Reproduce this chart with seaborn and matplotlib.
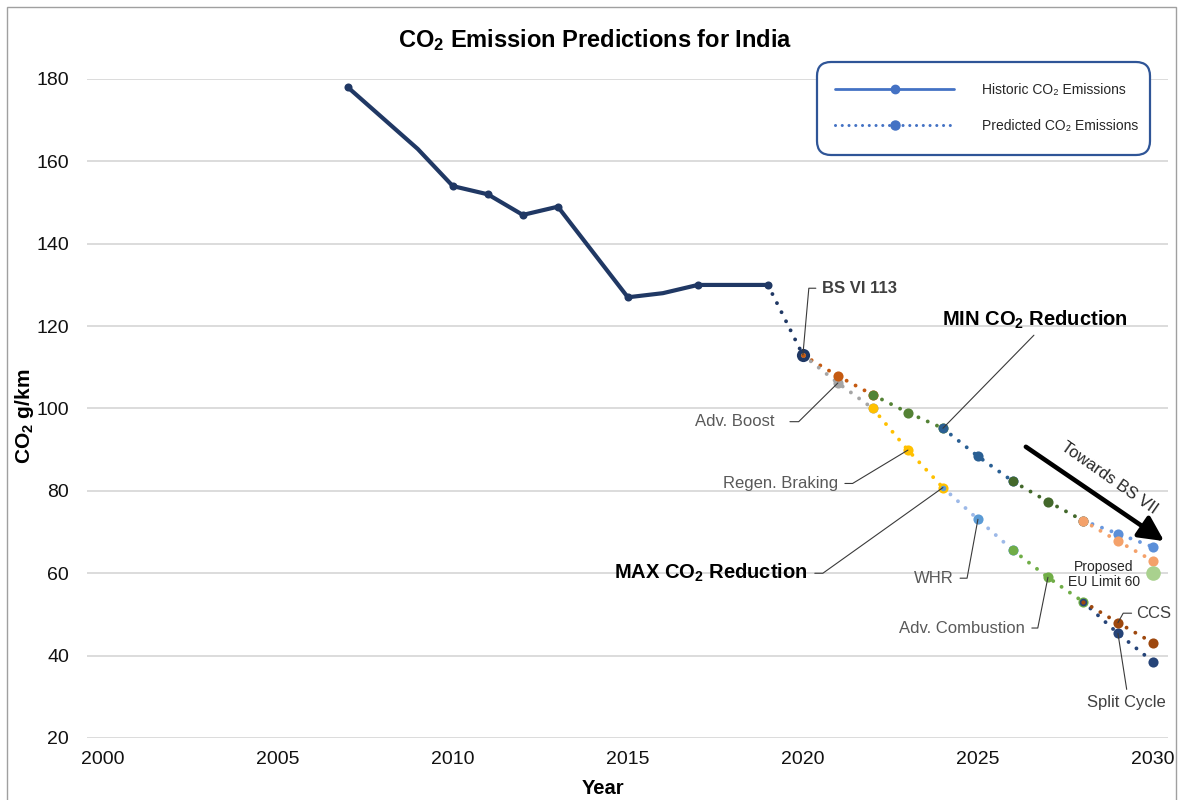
import matplotlib
matplotlib.use("Agg")
import matplotlib.pyplot as plt
import seaborn as sns
from matplotlib.lines import Line2D
from matplotlib.patches import FancyBboxPatch, Rectangle
from matplotlib.transforms import IdentityTransform

# ---------------- data ----------------
hist_years = [2007, 2009, 2010, 2011, 2012, 2013, 2015, 2016, 2017, 2019]
hist_vals = [178, 163, 154, 152, 147, 149, 127, 128, 130, 130]
hist_marked_years = [2007, 2010, 2011, 2012, 2013, 2015, 2017, 2019]

bs6_years = [2019, 2020]
bs6_vals = [130, 113]

pred_years = [2020, 2021, 2022, 2023, 2024, 2025, 2026, 2027, 2028, 2029, 2030]
min_vals = [113, 107.9, 103.3, 99.0, 95.2, 88.4, 82.3, 77.4, 72.8, 69.6, 66.4]
max_vals = [113, 106.2, 100.0, 89.9, 80.8, 73.1, 65.6, 59.0, 53.1, 45.4, 38.5]

branch_years = [2028, 2029, 2030]
min_branch_vals = [72.8, 67.8, 63.0]
ccs_vals = [53.1, 48.0, 43.1]

eu_limit_year = [2030]
eu_limit_val = [60]

x_ticks = [2000, 2005, 2010, 2015, 2020, 2025, 2030]
y_ticks = [20, 40, 60, 80, 100, 120, 140, 160, 180]

# ---------------- styles ----------------
NAVY = "#203864"
stage_slices = [(0, 3), (2, 5), (4, 7), (6, 9), (8, 11)]
min_line_colors = ["#C55A11", "#548235", "#2A5F93", "#43682B", "#6A98DE"]
min_marker_colors = ["#C55A11", "#548235", "#2A5F93", "#43682B", "#5B8FD9"]
min_start_sizes = [3.5, 7, 7, 7, 7]
max_line_colors = ["#A5A5A5", "#FFC000", "#9DB9E8", "#70AD47", "#264478"]
max_marker_colors = ["#A5A5A5", "#FFC000", "#5B9BD5", "#70AD47", "#264478"]
max_start_sizes = [3.5, 7, 4, 7, 5.5]
min_branch_color = "#F4A16A"
ccs_color = "#9E480E"
eu_color = "#A9D18E"

DOT = (0, (0.01, 2.6))

sns.set_theme(style="white")
plt.rcParams["font.family"] = ["Liberation Sans", "DejaVu Sans"]
plt.rcParams["mathtext.default"] = "regular"

W, H = 1182, 800
fig = plt.figure(figsize=(W / 100, H / 100), dpi=100)
ax_left, ax_right, ax_top, ax_bot = 87, 1168, 79, 738
ax = fig.add_axes([ax_left / W, 1 - ax_bot / H, (ax_right - ax_left) / W, (ax_bot - ax_top) / H])

# figure border
fig.add_artist(Rectangle((7, -5), 1169, 798, transform=IdentityTransform(),
                         fill=False, edgecolor="#A0A0A0", lw=1))


def dotted(xs, ys, color, lw=2.8, z=3):
    sns.lineplot(x=xs, y=ys, ax=ax, color=color, lw=lw, linestyle=DOT,
                 dash_capstyle="round", zorder=z, legend=False)


def dots(xs, ys, color, ms, z=5):
    sns.scatterplot(x=xs, y=ys, ax=ax, color=color, s=ms ** 2, linewidth=0,
                    zorder=z, legend=False, clip_on=False)


# historic
sns.lineplot(x=hist_years, y=hist_vals, ax=ax, color=NAVY, lw=3.0, zorder=4,
             solid_capstyle="round", solid_joinstyle="round", legend=False)
marked_vals = [v for yr, v in zip(hist_years, hist_vals) if yr in hist_marked_years]
dots(hist_marked_years, marked_vals, NAVY, 5.8)

# BS VI step
dotted(bs6_years, bs6_vals, NAVY)

# predicted lines
for (a, b), c in zip(stage_slices, min_line_colors):
    dotted(pred_years[a:b], min_vals[a:b], c)
for (a, b), c in zip(stage_slices, max_line_colors):
    dotted(pred_years[a:b], max_vals[a:b], c)
dotted(branch_years, min_branch_vals, min_branch_color)
dotted(branch_years, ccs_vals, ccs_color)

# markers
dots(bs6_years[-1:], bs6_vals[-1:], NAVY, 9.5)
for (a, b), c, s0 in zip(stage_slices, max_marker_colors, max_start_sizes):
    dots(pred_years[a + 1:b], max_vals[a + 1:b], c, 7.3)
    dots(pred_years[a:a + 1], max_vals[a:a + 1], c, s0)
dots(branch_years[1:], ccs_vals[1:], ccs_color, 7.3)
dots(branch_years[:1], ccs_vals[:1], ccs_color, 3)
for (a, b), c, s0 in zip(stage_slices, min_marker_colors, min_start_sizes):
    dots(pred_years[a + 1:b], min_vals[a + 1:b], c, 7.3)
    dots(pred_years[a:a + 1], min_vals[a:a + 1], c, s0)
dots(branch_years, min_branch_vals, min_branch_color, 7.3)
dots(eu_limit_year, eu_limit_val, eu_color, 10.5)

# axes styling
ax.set_xlim(1999.55, 2030.43)
ax.set_ylim(20, 180)
ax.set_xticks(x_ticks)
ax.set_xticklabels([str(t) for t in x_ticks])
ax.set_yticks(y_ticks)
ax.set_yticklabels([str(t) for t in y_ticks])
ax.tick_params(axis="both", length=0, labelsize=14, colors="#111111")
ax.tick_params(axis="y", pad=13)
ax.tick_params(axis="x", pad=9)
for s in ax.spines.values():
    s.set_visible(False)
ax.yaxis.grid(True, color="#D9D9D9", lw=1.3, zorder=0)
ax.xaxis.grid(False)
ax.set_xlabel("")
ax.set_ylabel("")

fig.text(595 / W, 1 - 40 / H, "CO$_2$ Emission Predictions for India", ha="center",
         va="center", fontsize=17, fontweight="bold", color="black")
fig.text(25 / W, 1 - 416 / H, "CO$_2$ g/km", rotation=90, ha="center", va="center",
         fontsize=15, fontweight="bold", color="black")
fig.text(603 / W, 1 - 789 / H, "Year", ha="center", va="center", fontsize=14.5,
         fontweight="bold", color="black")

# annotations
LEAD = dict(color="#3A3A3A", lw=0.8, zorder=6, clip_on=False)
GRAY_TXT = "#595959"


def left_label(text, tx, ty, stub, px, py, **kw):
    ax.text(tx, ty, text, ha="right", va="center", **kw)
    ax.plot([stub[0], stub[1], px], [ty, ty, py], **LEAD)


left_label("Adv. Boost", 2019.2, 96.8, (2019.63, 2019.88), 2021, 106.2,
           fontsize=12, color=GRAY_TXT)
left_label("Regen. Braking", 2021.0, 81.8, (2021.2, 2021.42), 2023, 89.9,
           fontsize=12, color=GRAY_TXT)
left_label("MAX CO$_2$ Reduction", 2020.14, 60.0, (2020.34, 2020.57), 2024, 80.8,
           fontsize=14.5, fontweight="bold", color="black")
left_label("WHR", 2024.31, 58.8, (2024.49, 2024.69), 2025, 73.1,
           fontsize=12, color=GRAY_TXT)
left_label("Adv. Combustion", 2026.34, 46.7, (2026.54, 2026.71), 2027, 59.0,
           fontsize=12, color=GRAY_TXT)

ax.text(2020.54, 129.2, "BS VI 113", ha="left", va="center", fontsize=12,
        fontweight="bold", color="#404040")
ax.plot([2020, 2020.17, 2020.37], [113, 129.2, 129.2], **LEAD)

ax.text(2026.62, 121.6, "MIN CO$_2$ Reduction", ha="center", va="center",
        fontsize=14.5, fontweight="bold", color="black")
ax.plot([2026.6, 2024], [117.8, 95.2], **LEAD)

ax.text(2029.51, 50.3, "CCS", ha="left", va="center", fontsize=12, color="#404040")
ax.plot([2029, 2029.15, 2029.39], [48.0, 50.3, 50.3], **LEAD)

ax.text(2029.23, 28.6, "Split Cycle", ha="center", va="center", fontsize=12,
        color="#404040")
ax.plot([2029.25, 2029], [31.8, 45.4], **LEAD)

ax.text(2028.6, 59.7, "Proposed\nEU Limit 60", ha="center", va="center",
        fontsize=10, color="#262626", linespacing=1.05)

ax.text(2028.75, 83.2, "Towards BS VII", ha="center", va="center", rotation=-35,
        fontsize=12, color="#262626", rotation_mode="anchor")
ax.annotate("", xy=(2030.32, 67.8), xytext=(2026.37, 90.7),
            arrowprops=dict(arrowstyle="-|>,head_length=1.0,head_width=0.5",
                            lw=3.3, color="black", shrinkA=0, shrinkB=0,
                            mutation_scale=15), annotation_clip=False)

# legend box + legend
fig.add_artist(FancyBboxPatch((817, H - 155), 333, 93, boxstyle="round,pad=0,rounding_size=14",
                              transform=IdentityTransform(), facecolor="white",
                              edgecolor="#2F5597", lw=1.6, zorder=10))
LEG_C = "#4472C4"
handles = [
    Line2D([], [], color=LEG_C, lw=2.0, marker="o", ms=6),
    Line2D([], [], color=LEG_C, lw=2.2, linestyle=(0, (0.01, 2.2)), dash_capstyle="round",
           marker="o", ms=6.5),
]
leg = fig.legend(handles, ["Historic CO₂ Emissions", "Predicted CO₂ Emissions"],
                 loc="center left", bbox_to_anchor=(828 / W, 1 - 108 / H),
                 frameon=False, borderpad=0, handlelength=8.6, handletextpad=2.0,
                 labelspacing=1.55, fontsize=10, numpoints=1)
leg.set_zorder(11)
for t in leg.get_texts():
    t.set_color("#262626")

fig.savefig("out.png", dpi=100)
